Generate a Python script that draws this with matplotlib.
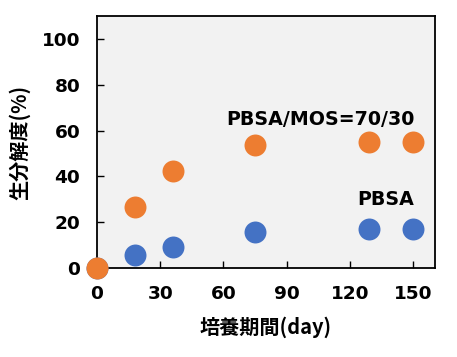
import matplotlib
matplotlib.use("Agg")
import matplotlib.pyplot as plt

days = [0, 18, 36, 75, 129, 150]
mos_blend = [0, 26.5, 42.5, 53.5, 55, 55]
pbsa = [0, 5.7, 9.0, 15.6, 17, 17]
xticks = [0, 30, 60, 90, 120, 150]
yticks = [0, 20, 40, 60, 80, 100]

plt.rcParams['font.family'] = ['DejaVu Sans', 'Noto Sans CJK JP']

fig = plt.figure(figsize=(4.57, 3.57), dpi=100)
ax = fig.add_axes([0.2123, 0.2493, 0.952 - 0.2123, 0.955 - 0.2493])
ax.set_facecolor('#F2F2F2')

ax.scatter(days, pbsa, s=250, color='#4472C4', zorder=3, clip_on=False, linewidths=0)
ax.scatter(days, mos_blend, s=250, color='#ED7D31', zorder=4, clip_on=False, linewidths=0)

ax.set_xlim(0, 160.5)
ax.set_ylim(0, 110)
ax.set_xticks(xticks)
ax.set_yticks(yticks)
ax.tick_params(direction='in', length=5, width=1, labelsize=13.3, pad=12)
for lab in ax.get_xticklabels() + ax.get_yticklabels():
    lab.set_fontweight('bold')
for sp in ax.spines.values():
    sp.set_linewidth(1.3)

ax.text(106, 65, 'PBSA/MOS=70/30', ha='center', va='center', fontsize=13.7, fontweight='bold')
ax.text(137, 29.7, 'PBSA', ha='center', va='center', fontsize=13.7, fontweight='bold')

ax.set_xlabel('培養期間(day)', fontsize=14.5, fontweight='bold',
              family=['Noto Sans CJK JP', 'DejaVu Sans'], labelpad=10)
ax.set_ylabel('生分解度(%)', fontsize=14.5, fontweight='bold',
              family=['Noto Sans CJK JP', 'DejaVu Sans'], labelpad=8)

fig.savefig('out.png', dpi=100)
